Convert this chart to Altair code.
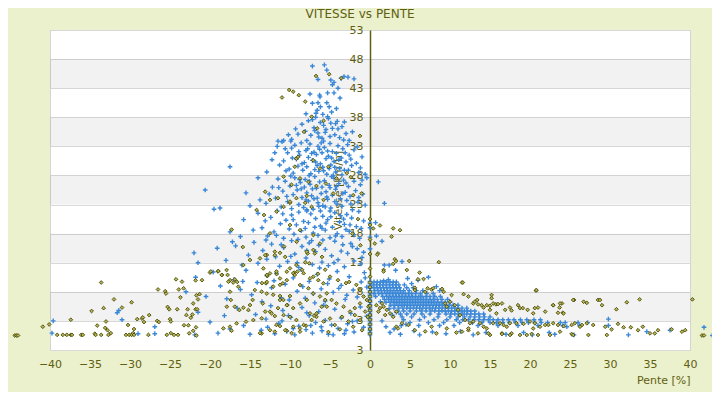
import altair as alt
import pandas as pd

OLIVE = "#5f5f10"
BLUE = "#3a87d8"

# ---------------- data (pente %, vitesse km/h) ----------------
blue_left_top = [(-7.2,46.8),(-5.7,47.0),(-5.4,46.1),(-6.5,44.5),(-4.9,44.4),(-4.5,44.0),(-3.6,44.7),
    (-3.25,45.0),(-2.75,44.9),(-2.0,44.6),(-4.7,43.6),(-4.0,43.0),(-7.5,42.0),(-6.3,41.8),(-6.25,41.5),
    (-5.3,42.2),(-4.5,42.2),(-3.75,41.3),(-7.2,40.4),(-6.5,40.5),(-5.4,40.5),(-6.2,39.8),(-5.1,39.8),
    (-4.8,38.9),(-4.2,39.5),(-6.75,38.7)]

blue_left_34_38 = [(-9.8,34.2),(-9.0,35.1),(-8.5,36.8),(-8.1,35.6),(-7.7,37.4),(-7.4,34.9),(-7.0,36.2),
    (-6.8,38.0),(-6.5,35.3),(-6.2,37.1),(-6.0,34.4),(-5.8,36.6),(-5.5,35.9),(-5.2,37.8),(-5.0,34.7),
    (-4.7,36.1),(-4.4,35.0),(-4.1,37.3),(-3.8,34.5),(-3.5,36.4),(-3.0,35.2),(-2.6,34.0),(-7.9,34.0),
    (-6.4,34.6),(-5.6,35.4),(-4.9,37.0),(-7.2,37.6),(-5.3,38.1),(-6.9,35.7),(-4.3,36.9),(-11.5,33.9),
    (-10.8,34.0),(-3.3,34.1)]

blue_left_28_34 = [(-11.6,33.0),(-11.0,33.8),(-10.8,30.5),(-10.3,31.9),(-10.1,29.1),(-9.8,32.7),(-9.6,28.4),
    (-9.4,33.2),(-9.2,30.8),(-9.0,29.6),(-8.8,31.5),(-8.6,33.6),(-8.4,28.9),(-8.2,30.2),(-8.0,32.3),
    (-7.9,29.5),(-7.7,31.1),(-7.5,33.4),(-7.4,28.3),(-7.2,30.6),(-7.0,32.0),(-6.9,29.0),(-6.7,31.6),
    (-6.5,33.0),(-6.4,28.7),(-6.2,30.0),(-6.0,31.9),(-5.9,29.4),(-5.7,32.8),(-5.5,30.9),(-5.4,28.2),
    (-5.2,31.3),(-5.0,33.5),(-4.9,29.8),(-4.7,32.1),(-4.5,30.4),(-4.3,28.6),(-4.2,31.8),(-4.0,33.1),
    (-3.8,29.2),(-3.6,31.0),(-3.4,32.6),(-3.2,28.9),(-3.0,30.3),(-2.8,33.3),(-2.6,31.5),(-2.3,29.7),
    (-2.0,32.4),(-1.7,30.1),(-1.4,28.5),(-1.0,31.2),(-0.6,28.2),(-6.8,30.3),(-5.8,33.9),(-7.6,28.0),
    (-8.9,32.1),(-4.6,28.0),(-6.3,32.5),(-3.9,30.7),(-5.1,29.2),(-12.25,30.7),(-0.4,27.6)]

blue_left_22_28 = [(-13.0,23.2),(-12.2,26.0),(-11.8,24.1),(-11.5,27.4),(-11.1,22.6),(-10.9,25.3),(-10.6,27.0),
    (-10.3,23.5),(-10.0,26.2),(-9.8,22.3),(-9.6,24.7),(-9.4,27.6),(-9.1,25.5),(-8.9,23.0),(-8.7,26.8),
    (-8.5,24.2),(-8.3,22.5),(-8.1,27.3),(-7.9,25.0),(-7.7,23.6),(-7.5,26.5),(-7.3,24.5),(-7.1,22.2),
    (-6.9,27.8),(-6.7,25.8),(-6.5,23.3),(-6.3,26.9),(-6.1,24.9),(-5.9,22.8),(-5.7,27.1),(-5.5,25.2),
    (-5.3,23.9),(-5.1,26.3),(-4.9,22.4),(-4.7,24.6),(-4.5,27.5),(-4.3,25.6),(-4.1,23.1),(-3.9,26.6),
    (-3.7,24.0),(-3.5,22.7),(-3.3,27.2),(-3.1,25.1),(-2.9,23.7),(-2.7,26.1),(-2.5,24.4),(-2.2,22.1),
    (-2.0,27.0),(-1.8,25.4),(-1.5,23.4),(-1.2,26.4),(-0.9,24.8),(-0.6,22.9),(-6.6,24.1),(-7.6,27.0),
    (-5.0,25.9),(-8.0,23.8),(-4.4,23.5),(-6.0,26.0),(-9.2,26.3),(-3.4,24.9),(-7.0,24.0),(-5.6,22.6),
    (-8.6,25.7),(-4.8,27.8),(-17.5,29.5),(-15.5,25.0),(-14.0,27.6),(-13.75,23.8),(-20.6,25.5)]

blue_left_17_22 = [(-14.0,21.5),(-13.5,19.0),(-12.8,17.6),(-12.4,20.8),(-12.0,18.3),(-11.6,21.9),(-11.2,19.7),
    (-10.8,17.2),(-10.5,20.3),(-10.1,18.8),(-9.8,21.2),(-9.5,17.9),(-9.2,19.5),(-8.9,21.7),(-8.6,18.5),
    (-8.3,20.1),(-8.0,17.4),(-7.7,19.9),(-7.4,21.4),(-7.1,18.1),(-6.8,20.6),(-6.5,17.7),(-6.2,19.3),
    (-5.9,21.0),(-5.6,18.6),(-5.3,20.4),(-5.0,17.3),(-4.7,19.1),(-4.4,21.6),(-4.1,18.0),(-3.8,20.0),
    (-3.5,17.5),(-3.2,19.6),(-2.9,21.3),(-2.6,18.4),(-2.3,20.7),(-2.0,17.8),(-1.7,19.2),(-1.4,21.8),
    (-1.1,18.9),(-0.8,20.2),(-7.9,21.9),(-6.0,18.9),(-4.9,20.9),(-3.0,18.7),(-9.0,17.0),(-18.75,22.4),
    (-19.5,22.2),(-15.8,20.4),(-17.5,18.3)]

blue_left_12_17 = [(-22.0,14.7),(-21.5,13.0),(-19.1,15.5),(-18.0,13.4),(-16.8,15.9),(-16.0,12.6),(-15.2,14.3),
    (-14.5,16.5),(-14.0,12.9),(-13.4,15.1),(-12.9,13.6),(-12.3,16.2),(-11.8,14.0),(-11.3,12.4),(-10.8,15.6),
    (-10.3,13.2),(-9.8,16.8),(-9.4,14.5),(-8.9,12.2),(-8.5,15.8),(-8.0,13.8),(-7.6,16.4),(-7.2,12.7),
    (-6.8,14.9),(-6.4,16.0),(-6.0,13.1),(-5.6,15.3),(-5.2,12.5),(-4.8,14.2),(-4.4,16.7),(-4.0,13.5),
    (-3.6,15.0),(-3.2,12.3),(-2.8,14.6),(-2.4,16.3),(-2.0,13.3),(-1.6,15.4),(-1.2,12.8),(-0.8,14.8),
    (-5.9,16.9),(-7.9,15.1),(-3.4,16.1),(-9.1,13.0),(-13.0,16.9),(-17.2,16.6)]

blue_left_dense = [(-9.3,36.0),(-8.0,38.6),(-6.6,39.2),(-5.9,38.5),(-4.0,36.0),(-3.2,37.2),(-2.2,35.5),
    (-10.2,35.0),(-7.8,32.6),(-6.6,29.7),(-5.3,32.2),(-4.4,29.4),(-3.1,31.9),(-2.4,30.8),(-1.6,32.9),
    (-1.2,29.3),(-8.5,30.0),(-9.7,31.0),(-10.5,28.8),(-11.3,29.8),(-7.3,31.8),(-6.1,33.6),(-4.8,31.0),
    (-3.5,28.1),(-2.7,28.9),(-5.8,28.8),(-8.8,27.3),(-7.2,25.7),(-6.4,22.7),(-5.4,24.3),(-4.2,26.1),
    (-3.0,26.7),(-2.4,23.1),(-1.4,24.2),(-1.0,27.2),(-10.4,24.4),(-11.4,25.9),(-12.6,24.8),(-9.9,27.9),
    (-8.2,26.0),(-7.9,22.1),(-6.2,21.9),(-5.0,21.9),(-3.7,21.1),(-2.5,19.5),(-1.3,17.2),(-9.6,20.4),
    (-10.9,21.4),(-11.7,17.7),(-13.1,20.2),(-8.1,18.9),(-6.9,19.1),(-5.5,19.8),(-4.3,17.6),(-3.3,20.5),
    (-7.3,16.8),(-9.9,14.1),(-11.1,16.1),(-6.3,12.1),(-4.5,13.0),(-2.2,15.8),(-1.0,13.9),(-14.6,18.6),
    (-16.2,17.5),(-15.0,22.8),(-12.9,28.6),(-11.9,31.9),(-10.6,32.6),(-9.9,33.9)]

blue_left_6_12 = [(-23.0,8.0),(-21.8,10.5),(-20.5,7.2),(-19.6,11.4),(-18.7,9.0),(-17.9,6.8),(-17.0,10.1),
    (-16.2,8.4),(-15.5,11.7),(-14.8,7.5),(-14.1,9.6),(-13.5,6.3),(-12.9,10.8),(-12.3,8.7),(-11.7,11.2),
    (-11.1,7.0),(-10.6,9.3),(-10.1,6.6),(-9.6,10.4),(-9.1,8.1),(-8.6,11.8),(-8.1,6.9),(-7.6,9.8),
    (-7.1,7.7),(-6.6,11.0),(-6.1,8.5),(-5.6,6.4),(-5.1,10.2),(-4.6,7.9),(-4.1,11.5),(-3.6,9.1),
    (-3.1,6.7),(-2.6,10.6),(-2.1,8.3),(-1.6,7.1),(-1.1,9.7),(-0.7,11.3),(-0.4,8.8),(-12.0,9.9),
    (-8.4,8.9),(-5.3,9.4),(-2.9,7.4),(-15.9,9.8),(-6.9,6.1),(-3.9,8.6),(-0.6,10.4)]

blue_left_0_6 = [(-39.6,3.0),(-39.75,0.9),(-31.6,4.4),(-31.4,4.8),(-31.0,3.2),(-29.0,0.8),(-26.9,2.0),
    (-26.9,0.8),(-21.5,4.5),(-21.9,0.6),(-20.0,2.8),(-19.0,0.9),(-18.2,3.9),(-17.5,1.6),(-16.6,5.2),
    (-15.8,2.2),(-15.0,0.7),(-14.3,4.1),(-13.6,1.4),(-13.0,3.3),(-12.4,5.6),(-11.9,0.8),(-11.4,2.6),
    (-10.9,4.8),(-10.4,1.2),(-9.9,3.6),(-9.4,0.6),(-8.9,2.1),(-8.5,5.3),(-8.0,1.5),(-7.6,3.9),
    (-7.2,0.9),(-6.8,2.7),(-6.4,4.6),(-6.0,1.3),(-5.6,3.1),(-5.2,0.7),(-4.8,2.3),(-4.4,5.0),
    (-4.0,1.7),(-3.6,3.5),(-3.2,0.8),(-2.8,2.5),(-2.4,4.3),(-2.0,1.1),(-1.6,3.0),(-1.2,5.4),
    (-0.8,1.9),(-0.4,3.8),(-9.6,1.7),(-7.9,4.4),(-6.1,2.0),(-4.6,0.6),(-3.0,1.4),(-11.0,3.0),
    (-12.8,1.9),(-5.8,5.7),(-7.4,2.2),(-10.2,3.9),(-2.2,2.9)]

blue_axis_y = [0.6,1.0,1.4,1.8,2.2,2.6,3.0,3.4,3.8,4.2,4.6,5.0,5.4,5.8,6.2,6.6,7.0,7.4,7.8,8.2,
    8.6,9.0,9.4,9.8,15.4,17.4,19.0,19.8]

blue_right_upper = [(1.04,26.9),(1.8,23.2),(0.7,19.9),(0.8,17.6),(1.5,16.7),(4.0,13.2),(1.8,12.6),
    (2.4,12.6),(3.2,11.7),(7.3,10.5),(2.3,10.1),(1.7,9.9),(5.2,9.4),(8.3,8.9),(8.7,8.2),(6.0,10.0),
    (4.7,10.3),(1.5,3.0),(2.0,2.0),(3.0,1.6),(4.5,2.4),(3.3,4.5),(2.4,5.1),(1.3,6.3),(2.8,4.0)]

blue_row_y = [9.7, 9.2, 8.7, 8.2, 7.7, 7.2, 6.7, 6.2, 5.7, 5.2, 4.7, 4.2, 3.7, 3.2, 2.7, 2.2]
blue_row_x = [
    [0.5,0.9,1.3,1.7,2.1,2.5,2.9,3.3],
    [0.4,0.8,1.2,1.6,2.0,2.4,2.8,3.2,3.6,4.3],
    [0.5,0.9,1.3,1.7,2.1,2.5,2.9,3.3,3.7,4.6,5.4],
    [0.6,1.0,1.4,1.8,2.2,2.6,3.0,3.4,3.8,4.2,4.9,5.8,6.6],
    [0.5,1.1,1.5,2.0,2.4,2.8,3.2,3.6,4.0,4.4,4.8,5.2,5.7,6.3,7.1,7.9],
    [0.7,1.6,2.1,2.5,2.9,3.3,3.7,4.1,4.5,4.9,5.3,5.7,6.1,6.5,7.0,7.5,8.1,8.8],
    [1.8,2.3,2.7,3.1,3.5,3.9,4.3,4.7,5.1,5.5,5.9,6.3,6.7,7.1,7.5,7.9,8.4,9.0,9.7],
    [2.0,2.5,2.9,3.3,3.7,4.1,4.5,4.9,5.3,5.7,6.1,6.5,6.9,7.3,7.7,8.1,8.5,8.9,9.4,10.0],
    [2.6,3.1,3.5,3.9,4.3,4.7,5.1,5.5,5.9,6.3,6.7,7.1,7.5,7.9,8.3,8.7,9.1,9.5,9.9,10.4,11.0],
    [3.0,3.6,4.1,4.6,5.0,5.4,5.8,6.2,6.6,7.0,7.4,7.8,8.2,8.6,9.0,9.4,9.8,10.2,10.6,11.0,11.5,12.1],
    [3.5,4.2,5.0,5.8,6.4,7.0,7.6,8.1,8.6,9.0,9.4,9.8,10.2,10.6,11.0,11.4,11.8,12.2,12.6,13.1],
    [3.8,4.6,5.5,6.5,7.5,8.6,9.5,10.1,10.6,11.1,11.6,12.1,12.6,13.1,13.6,14.2],
    [4.0,5.2,6.8,8.5,10.0,11.0,11.8,12.5,13.1,13.7,14.3,15.0],
    [4.2,6.2,8.0,9.6,10.8,11.6,12.3,13.0,13.6,14.2,14.8,15.4,16.0,16.6,17.3,18.0,18.8,19.6,20.5,21.3],
    [5.0,7.3,9.2,11.2,12.8,14.0,15.0,15.8,16.6,17.4,18.2,19.0,19.8,20.6,21.4,22.2,23.8,24.4,26.0,27.2],
    [3.9,6.1,8.7,10.5,13.5,16.0,18.5,21.0,24.1,26.2,29.8],
]

blue_right_low = [(2.5,1.0),(3.8,0.7),(5.5,1.3),(6.2,0.6),(7.8,1.1),(9.5,0.8),(11.3,1.2),(12.9,0.6),
    (14.5,1.0),(17.0,0.7),(19.2,1.0),(20.3,0.6),(22.4,1.0),(23.1,0.7),(25.5,0.6),(24.6,2.0),(29.8,3.3),
    (32.3,0.6),(34.6,1.15),(37.5,1.4),(41.75,1.9),(42.8,0.5)]

olive_left_far = [(-44.4,0.5),(-44.2,0.5),(-44.0,0.5),(-40.9,2.0),(-40.1,2.4),(-39.1,0.6),(-38.4,0.6),
    (-37.9,0.6),(-37.4,0.6),(-37.25,0.6),(-36.1,0.6),(-35.9,0.6),(-37.4,3.2),(-34.8,4.7),(-33.6,9.6),
    (-32.0,6.7),(-33.3,5.2),(-34.1,2.2),(-33.0,2.9),(-33.1,1.8),(-32.8,1.4),(-32.4,0.9),(-34.4,0.8),
    (-34.3,0.6),(-33.6,0.6),(-32.7,0.6),(-31.0,5.3),(-30.5,0.6),(-30.1,0.6),(-29.8,0.6),(-29.6,0.9),
    (-29.5,0.6),(-29.8,6.2),(-30.25,2.3),(-29.5,1.6),(-29.1,3.3),(-28.5,3.4),(-28.4,3.6),(-28.25,2.8),
    (-27.6,4.0),(-27.7,0.6),(-26.6,3.0),(-26.4,2.8),(-26.5,8.4),(-25.6,8.1),(-25.5,7.7),(-25.3,5.4),
    (-25.1,5.0),(-25.0,3.3),(-24.9,2.9),(-25.4,0.6),(-24.9,0.9),(-24.5,0.6),(-24.0,0.6)]

olive_left_mid = [(-24.25,10.15),(-23.5,9.75),(-23.9,8.4),(-23.3,8.6),(-23.7,7.05),(-24.1,5.0),(-22.8,5.0),
    (-22.95,4.0),(-23.25,2.25),(-22.7,2.25),(-22.4,3.55),(-22.2,4.1),(-21.8,5.0),(-21.6,5.0),(-21.5,6.7),
    (-21.7,7.4),(-21.8,9.97),(-21.3,7.6),(-22.1,6.0),(-21.75,1.9),(-22.1,1.3),(-22.6,0.87),(-21.7,0.5),
    (-21.0,10.0),(-20.0,11.3),(-19.0,11.5),(-18.5,10.9),(-17.8,10.9),(-17.5,10.0),(-17.1,9.6),(-16.6,9.7),
    (-17.3,18.7),(-19.9,11.5),(-18.96,11.58),(-18.54,10.9),(-17.92,11.75),(-17.7,9.74),(-16.9,10.14),
    (-16.46,8.88),(-17.5,8.02),(-17.4,6.6),(-17.9,5.44),(-16.9,5.44),(-16.33,4.87),(-15.83,5.27),
    (-15.2,4.87),(-15.0,5.73),(-14.67,6.6),(-14.4,8.31),(-13.54,8.02),(-13.0,9.46),(-12.83,10.72),
    (-13.33,12.03),(-12.5,11.17),(-11.67,11.06),(-11.25,10.3),(-10.9,9.46),(-10.4,11.46),(-10.0,12.03),
    (-9.46,11.3),(-11.25,7.28),(-10.83,6.6),(-10.33,5.73),(-10.0,7.28),(-12.5,4.58),(-11.9,3.84),
    (-13.54,3.44),(-14.58,3.15),(-15.5,2.87),(-16.67,2.58),(-17.5,2.0),(-18.33,1.72),(-17.3,1.32),
    (-13.54,0.86),(-11.9,1.15),(-11.25,2.12),(-10.4,1.32),(-9.58,2.0),(-8.75,1.15),(-8.0,2.18),
    (-7.3,3.15),(-6.67,4.3),(-6.04,5.44),(-5.6,6.6),(-5.4,7.74),(-5.83,9.46),(-6.46,10.0),(-7.08,10.6),
    (-7.7,8.6),(-8.75,9.17),(-9.08,11.46),(-8.1,13.06),(-7.8,14.6),(-7.08,15.2),(-6.25,16.3),
    (-9.17,16.6),(-10.75,15.8),(-11.9,14.9),(-12.9,14.33),(-13.75,13.75),(-15.0,13.47),(-15.83,12.6),
    (-12.5,18.05),(-13.25,21.2),(-14.17,22.06),(-11.67,21.8),(-10.0,23.3),(-8.1,23.3),(-10.0,19.48),
    (-8.75,18.6),(-7.08,17.76),(-15.9,15.7)]

olive_left_near = [(-13.1,14.3),(-11.9,14.3),(-10.6,14.0),(-11.25,14.7),(-7.9,14.9),(-6.9,14.6),(-6.0,14.0),
    (-7.6,12.9),(-9.2,12.6),(-8.5,11.8),(-9.6,11.2),(-11.7,11.5),(-12.9,10.9),(-13.5,9.5),(-12.9,9.7),
    (-12.1,8.9),(-11.25,9.2),(-10.4,10.0),(-9.4,10.9),(-8.3,11.2),(-7.5,10.3),(-6.5,11.1),(-5.6,11.8),
    (-5.0,10.6),(-4.0,10.0),(-3.0,9.5),(-2.6,9.7),(-1.7,9.2),(-1.25,8.3),(-0.8,7.2),(-0.4,6.6),
    (-1.25,6.0),(-1.9,5.2),(-2.5,4.6),(-3.3,5.45),(-4.2,6.0),(-4.8,6.6),(-5.4,5.45),(-6.25,7.2),
    (-7.1,7.7),(-7.9,6.6),(-8.75,6.0),(-9.6,5.2),(-10.4,5.7),(-11.25,6.6),(-12.1,7.5),(-12.9,7.7),
    (-13.4,6.0),(-13.1,4.6),(-12.3,4.3),(-11.5,5.2),(-10.8,4.0),(-10.0,3.7),(-9.2,3.15),(-8.3,2.3),
    (-7.5,4.3),(-6.7,3.7),(-5.8,2.9),(-5.0,3.4),(-4.4,2.3),(-3.5,3.7),(-2.7,2.9),(-1.9,4.0),
    (-1.25,3.15),(-0.6,4.6),(-0.2,5.45),(-13.75,0.9),(-12.5,1.4),(-11.7,2.3),(-10.6,1.4),(-9.8,0.9),
    (-8.75,1.7),(-7.0,3.9),(-5.2,1.1),(-3.75,1.55),(-2.1,2.0),(-1.0,1.4),(-0.3,3.7)]

olive_left_high = [(-11.0,41.4),(-10.1,42.7),(-9.6,42.4),(-8.9,41.8),(-8.1,40.7),(-6.75,45.1),(-5.1,45.4),
    (-3.6,44.7),(-7.3,38.1),(-6.6,36.1),(-8.25,35.5),(-5.8,37.4),(-1.25,34.8),(-9.2,30.9),(-9.0,31.2),
    (-9.4,29.5),(-7.1,30.6),(-6.25,29.2),(-5.2,29.5),(-10.8,27.8),(-9.8,26.4),(-8.75,27.5),(-7.7,26.9),
    (-6.7,26.2),(-5.5,26.6),(-4.2,27.5),(-2.9,28.4),(-2.4,27.7),(-12.5,23.8),(-11.5,24.1),(-10.0,23.5),
    (-9.2,24.1),(-7.9,24.5),(-7.3,22.6),(-5.8,23.8),(-4.6,24.9),(-2.1,24.6),(-1.05,24.9),(-13.1,25.2),
    (-10.8,22.6),(-1.5,20.5),(-2.2,18.0),(-1.2,16.0)]

olive_axis_y = [0.8,1.6,2.4,3.2,4.0,4.8,5.6,6.4,7.2,8.0,8.8,9.6,10.6,12.0,14.5,17.0,19.5,20.5]

olive_right_near = [(0.4,18.9),(1.25,19.4),(0.6,16.3),(1.0,14.6),(2.9,18.9),(3.75,18.6),(2.7,17.5),
    (1.7,11.75),(0.9,14.4),(3.1,13.6),(3.25,13.3),(4.9,13.3),(2.9,12.8),(4.6,11.75),(1.7,11.5),
    (6.2,11.3),(6.7,10.2),(6.0,10.15),(8.6,13.1),(11.5,9.6),(9.0,8.5),(5.6,8.7),(7.2,8.6),(7.7,8.4),
    (20.75,8.2),(0.8,5.7),(1.25,5.2),(1.7,5.45),(2.1,4.9),(2.5,4.3),(1.05,4.6),(1.9,4.0),(2.9,3.7),
    (1.5,6.0),(3.3,4.6),(5.6,8.3),(6.9,8.0),(7.9,8.6),(9.2,8.0),(3.3,2.0),(3.5,1.7),(4.0,2.6),
    (4.8,2.3),(5.6,1.4),(6.9,1.2),(7.7,2.0),(8.3,0.86),(9.6,1.7),(10.8,1.0),(11.5,1.15),(12.3,1.4),
    (13.5,0.86),(15.0,0.58),(16.5,0.86),(17.7,0.86),(20.2,0.75),(21.0,0.58)]

olive_right_band = [(11.6,9.6),(10.2,7.45),(11.7,7.6),(12.3,7.2),(12.9,6.0),(13.1,6.3),(13.4,6.6),
    (13.5,5.85),(13.95,5.7),(14.2,5.3),(14.6,5.7),(15.0,5.6),(15.2,7.45),(15.2,6.9),(15.4,6.0),
    (15.75,5.85),(16.0,5.9),(16.5,6.0),(15.0,4.9),(15.8,4.3),(16.9,4.9),(17.5,5.3),(17.7,4.8),
    (18.5,5.7),(18.75,5.2),(19.1,5.2),(19.7,4.9),(20.4,4.3),(20.6,5.2),(21.0,5.3),(20.8,8.3),
    (21.9,4.6),(22.9,5.7),(23.5,4.4),(23.7,5.3),(24.0,6.0),(24.1,4.4),(25.5,6.6),(26.7,6.3),
    (9.4,6.0),(9.6,5.45),(10.0,6.3),(10.6,5.7),(11.0,4.9),(11.25,4.0),(11.9,3.15),(12.5,2.6),
    (12.9,2.9),(13.75,2.6),(14.2,2.0),(14.6,1.7),(15.4,2.6),(16.25,2.6),(16.7,2.3),(17.1,2.0),
    (17.5,2.6),(18.3,2.6),(19.2,2.5),(20.0,2.9),(20.6,2.6),(21.25,2.0),(21.9,2.3),(22.3,2.3),
    (22.9,2.6),(23.5,2.3),(24.2,2.1),(25.2,2.3),(25.6,2.6),(26.5,2.3),(27.1,2.6),(16.5,0.75),
    (17.5,0.58),(18.75,0.58),(19.6,0.58),(22.5,0.58),(23.75,1.15),(25.2,0.75),(27.3,0.58),
    (14.8,0.86),(12.3,1.7),(20.4,1.7)]

olive_right_far = [(22.9,5.7),(23.75,6.0),(24.2,4.3),(25.4,6.6),(27.1,6.1),(28.5,6.6),(28.75,6.6),
    (29.0,5.7),(30.8,5.0),(32.1,6.2),(33.7,6.7),(40.3,6.7),(25.4,0.58),(26.25,2.0),(27.9,2.3),
    (29.4,2.0),(29.6,0.58),(30.2,1.55),(31.0,2.5),(31.7,1.9),(32.6,1.9),(33.5,1.4),(34.1,2.0),
    (35.0,0.86),(35.6,0.86),(36.0,1.4),(37.7,1.55),(39.0,1.15),(39.4,1.4),(41.5,0.5),(41.75,0.5)]

band_lo = [3, 13, 23, 33, 43]
band_hi = [8, 18, 28, 38, 48]
y_ticks = [-2, 3, 8, 13, 18, 23, 28, 33, 38, 43, 48, 53]
x_ticks = [-40, -35, -30, -25, -20, -15, -10, -5, 0, 5, 10, 15, 20, 25, 30, 35, 40]

# ---------------- tables ----------------
blue_pts = (blue_left_top + blue_left_34_38 + blue_left_28_34 + blue_left_22_28 + blue_left_17_22
            + blue_left_12_17 + blue_left_dense + blue_left_6_12 + blue_left_0_6
            + [(0.0, v) for v in blue_axis_y] + blue_right_upper + blue_right_low)
for yv, xs_ in zip(blue_row_y, blue_row_x):
    blue_pts += [(xv, yv) for xv in xs_]
olive_pts = (olive_left_far + olive_left_mid + olive_left_near + olive_left_high
             + [(0.0, v) for v in olive_axis_y] + olive_right_near + olive_right_band + olive_right_far)

pts_df = pd.concat([
    pd.DataFrame(blue_pts, columns=["pente", "vitesse"]).assign(serie="a"),
    pd.DataFrame(olive_pts, columns=["pente", "vitesse"]).assign(serie="b"),
], ignore_index=True)
band_df = pd.DataFrame({"lo": band_lo, "hi": band_hi})

W, H = 640, 320
xs = alt.Scale(domain=[-40, 40], nice=False, zero=False)
ys = alt.Scale(domain=[-2, 53], nice=False, zero=False)

x_axis = alt.Axis(values=x_ticks, grid=False, ticks=False, domain=False, labelColor=OLIVE,
                  labelFontSize=11, labelPadding=8, labelFlush=False,
                  title="Pente [%]", titleAnchor="end", titleColor=OLIVE,
                  titleFontSize=11, titleFontWeight="normal", titlePadding=5)
y_axis = alt.Axis(values=y_ticks, offset=-320, grid=True, gridColor="#d9d9d9", gridWidth=1,
                  ticks=False, domainColor=OLIVE, domainWidth=1.5, labelColor=OLIVE,
                  labelFontSize=11, labelPadding=7, labelFlush=False,
                  labelExpr="datum.value == -2 ? '3' : datum.label",
                  title="Vitesse [km/h]", titleColor=OLIVE,
                  titleFontSize=11, titleFontWeight="normal", titlePadding=6)

bands = alt.Chart(band_df).mark_rect(color="#000000", opacity=0.05).encode(
    x=alt.value(0), x2=alt.value(W),
    y=alt.Y("lo:Q", scale=ys, axis=y_axis), y2="hi:Q")

points = alt.Chart(pts_df).mark_point(filled=True, opacity=1).encode(
    x=alt.X("pente:Q", scale=xs, axis=x_axis),
    y=alt.Y("vitesse:Q", scale=ys, axis=y_axis),
    shape=alt.Shape("serie:N", legend=None,
                    scale=alt.Scale(domain=["a", "b"], range=["M-1,0L1,0M0,-1L0,1", "diamond"])),
    fill=alt.Fill("serie:N", legend=None,
                  scale=alt.Scale(domain=["a", "b"], range=[BLUE, "#b4b45c"])),
    stroke=alt.Stroke("serie:N", legend=None,
                      scale=alt.Scale(domain=["a", "b"], range=[BLUE, "#4a4a00"])),
    strokeWidth=alt.StrokeWidth("serie:N", legend=None,
                                scale=alt.Scale(domain=["a", "b"], range=[1.4, 0.9])),
    size=alt.Size("serie:N", legend=None,
                  scale=alt.Scale(domain=["a", "b"], range=[22, 14])),
)

chart = alt.layer(bands, points).properties(
    width=W, height=H,
    title=alt.TitleParams("VITESSE vs PENTE", fontSize=12, fontWeight="normal", color=OLIVE,
                          anchor="middle", frame="group", offset=3, dx=-10),
    autosize=alt.AutoSizeParams(type="none"),
    padding={"left": 42, "top": 22, "right": 22, "bottom": 42},
).configure(background="#ebf0cd", font="DejaVu Sans").configure_view(
    fill="white", stroke="#d4d4d4", strokeWidth=1)

chart.save("out.html", embed_options={"renderer": "svg", "actions": False})
